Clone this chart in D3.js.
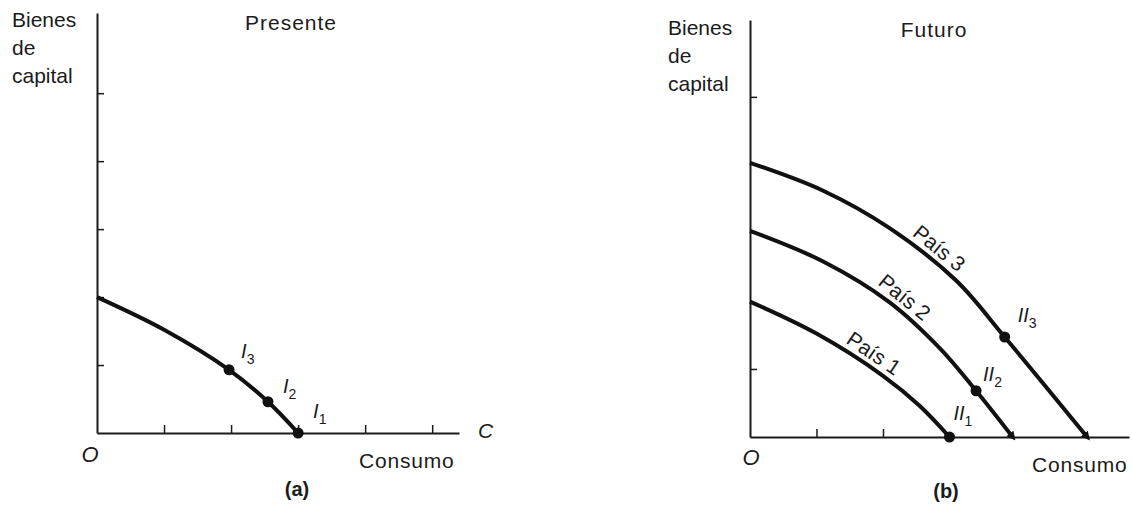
<!DOCTYPE html>
<html>
<head>
<meta charset="utf-8">
<script src="https://cdn.jsdelivr.net/npm/d3@7"></script>
<style>
  body { margin: 0; background: #fff; }
  svg text { font-family: "Liberation Sans", Arial, Helvetica, sans-serif; fill: #1b1b1b; }
</style>
</head>
<body>
<svg id="chart" width="1132" height="511"></svg>
<script>
// frontier curves in tick units (consumo, bienes de capital)
const presentCurve = [[0, 2], [1, 1.52], [1.97, 0.93], [2.55, 0.46], [3, 0]]
const pais1 = [[0, 1.99], [1, 1.52], [2, 0.9], [2.55, 0.46], [3, 0]]
const pais2 = [[0, 3.03], [1.1, 2.58], [2.1, 1.98], [2.86, 1.3], [3.4, 0.68], [3.95, 0]]
const pais3 = [[0, 4.03], [1.1, 3.62], [2.1, 3.07], [3.1, 2.3], [3.83, 1.47], [5.07, 0]]

const presentPoints = [
  {name: 'I', sub: '3', x: 1.97, y: 0.93},
  {name: 'I', sub: '2', x: 2.55, y: 0.46},
  {name: 'I', sub: '1', x: 3, y: 0}
]
const futurePoints = [
  {name: 'II', sub: '1', x: 3, y: 0},
  {name: 'II', sub: '2', x: 3.4, y: 0.68},
  {name: 'II', sub: '3', x: 3.83, y: 1.47}
]
const paisNames = ['País 1', 'País 2', 'País 3']
const paisLabelAt = [1.75, 2.2, 2.72]   // x (units) where each name sits on its curve

const presentTicksX = [1, 2, 3, 4, 5]
const presentTicksY = [1, 2, 3, 4, 5]
const futureTicksX = [1, 2]
const futureTicksY = [1, 5]
const yTitle = ['Bienes', 'de', 'capital']

// label offsets from each dot (px), layout only
const presentLabelOff = [[12, -12], [15, -9], [15, -15]]
const futureLabelOff = [[4, -17], [7, -10], [13, -15]]

const svg = d3.select('#chart')

const defs = svg.append('defs')
defs.append('marker')
  .attr('id', 'tip')
  .attr('viewBox', '0 0 10 10')
  .attr('refX', 5).attr('refY', 5)
  .attr('markerUnits', 'userSpaceOnUse')
  .attr('markerWidth', 9).attr('markerHeight', 9)
  .attr('orient', 'auto')
  .append('path')
  .attr('d', 'M0,0 L10,5 L0,10 Z')
  .attr('fill', '#111')

function drawAxes(g, x, y, ticksX, ticksY) {
  g.append('g')
    .attr('transform', 'translate(0,' + y(0) + ')')
    .call(d3.axisBottom(x).tickValues(ticksX).tickSize(-8).tickSizeOuter(0).tickFormat(''))
    .call(a => a.select('.domain').attr('stroke-width', 1.8))
    .call(a => a.selectAll('.tick line').attr('stroke-width', 1.5))
  g.append('g')
    .attr('transform', 'translate(' + x(0) + ',0)')
    .call(d3.axisLeft(y).tickValues(ticksY).tickSize(-7).tickSizeOuter(0).tickFormat(''))
    .call(a => a.select('.domain').attr('stroke-width', 2))
    .call(a => a.selectAll('.tick line').attr('stroke-width', 1.5))
  g.selectAll('.domain, .tick line').attr('stroke', '#1b1b1b')
}

function drawYTitle(g, x0, y0) {
  g.append('text')
    .attr('font-size', 21)
    .selectAll('tspan')
    .data(yTitle)
    .enter().append('tspan')
    .attr('x', x0)
    .attr('y', (d, i) => y0 + i * 28)
    .text(d => d)
}

function drawPointLabels(g, pts, offs, x, y) {
  g.selectAll('circle.pt')
    .data(pts)
    .enter().append('circle')
    .attr('class', 'pt')
    .attr('cx', d => x(d.x))
    .attr('cy', d => y(d.y))
    .attr('r', 5.5)
    .attr('fill', '#111')
  const t = g.selectAll('text.pt')
    .data(pts)
    .enter().append('text')
    .attr('class', 'pt')
    .attr('x', (d, i) => x(d.x) + offs[i][0])
    .attr('y', (d, i) => y(d.y) + offs[i][1])
    .attr('font-size', 20)
  t.append('tspan').attr('font-style', 'italic').text(d => d.name)
  t.append('tspan')
    .attr('font-size', 14)
    .attr('dy', 6)
    .text(d => d.sub)
}

// ---------- (a) Presente ----------
const xa = d3.scaleLinear().domain([0, 5.4]).range([97, 459])
const ya = d3.scaleLinear().domain([0, 6.18]).range([433, 13])
const ga = svg.append('g')
drawAxes(ga, xa, ya, presentTicksX, presentTicksY)
drawYTitle(ga, 12, 27)

const lineA = d3.line().x(d => xa(d[0])).y(d => ya(d[1])).curve(d3.curveCatmullRom.alpha(0.5))
ga.append('path')
  .attr('d', lineA(presentCurve))
  .attr('fill', 'none')
  .attr('stroke', '#111')
  .attr('stroke-width', 4)
drawPointLabels(ga, presentPoints, presentLabelOff, xa, ya)

ga.append('text').attr('x', 291).attr('y', 30).attr('font-size', 21)
  .attr('text-anchor', 'middle').attr('letter-spacing', 1).text('Presente')
ga.append('text').attr('x', 90).attr('y', 462).attr('font-size', 22)
  .attr('font-style', 'italic').attr('text-anchor', 'middle').text('O')
ga.append('text').attr('x', 478).attr('y', 438).attr('font-size', 21)
  .attr('font-style', 'italic').text('C')
ga.append('text').attr('x', 359).attr('y', 468).attr('font-size', 21)
  .attr('letter-spacing', 0.8).text('Consumo')
ga.append('text').attr('x', 297).attr('y', 496).attr('font-size', 20)
  .attr('font-weight', 'bold').attr('text-anchor', 'middle').text('(a)')

// ---------- (b) Futuro ----------
const xb = d3.scaleLinear().domain([0, 5.7]).range([750, 1129])
const yb = d3.scaleLinear().domain([0, 6.13]).range([437, 20])
const gb = svg.append('g')
drawAxes(gb, xb, yb, futureTicksX, futureTicksY)
drawYTitle(gb, 668, 35)

const lineB = d3.line().x(d => xb(d[0])).y(d => yb(d[1])).curve(d3.curveCatmullRom.alpha(0.5))
const curves = [pais1, pais2, pais3]
gb.selectAll('path.pais')
  .data(curves)
  .enter().append('path')
  .attr('class', 'pais')
  .attr('d', d => lineB(d))
  .attr('fill', 'none')
  .attr('stroke', '#111')
  .attr('stroke-width', 4)
  .attr('marker-end', (d, i) => i > 0 ? 'url(#tip)' : null)

// names along the curves, turned to the local slope
gb.selectAll('text.pais')
  .data(curves)
  .enter().append('text')
  .attr('class', 'pais')
  .attr('font-size', 21)
  .attr('text-anchor', 'middle')
  .attr('dy', -6)
  .attr('transform', (d, i) => {
    const path = gb.selectAll('path.pais').nodes()[i]
    const len = path.getTotalLength()
    // find the point at the wanted x by bisection on length
    let lo = 0, hi = len
    const tx = xb(paisLabelAt[i])
    for (let k = 0; k < 30; k++) {
      const mid = (lo + hi) / 2
      if (path.getPointAtLength(mid).x < tx) lo = mid; else hi = mid
    }
    const p = path.getPointAtLength(lo)
    const q = path.getPointAtLength(Math.min(len, lo + 4))
    const ang = Math.atan2(q.y - p.y, q.x - p.x) * 180 / Math.PI
    return 'translate(' + p.x + ',' + p.y + ') rotate(' + ang + ')'
  })
  .text((d, i) => paisNames[i])

drawPointLabels(gb, futurePoints, futureLabelOff, xb, yb)

gb.append('text').attr('x', 934).attr('y', 37).attr('font-size', 21)
  .attr('text-anchor', 'middle').attr('letter-spacing', 1).text('Futuro')
gb.append('text').attr('x', 751).attr('y', 465).attr('font-size', 22)
  .attr('font-style', 'italic').attr('text-anchor', 'middle').text('O')
gb.append('text').attr('x', 1032).attr('y', 472).attr('font-size', 21)
  .attr('letter-spacing', 0.8).text('Consumo')
gb.append('text').attr('x', 946).attr('y', 498).attr('font-size', 20)
  .attr('font-weight', 'bold').attr('text-anchor', 'middle').text('(b)')
</script>
</body>
</html>
